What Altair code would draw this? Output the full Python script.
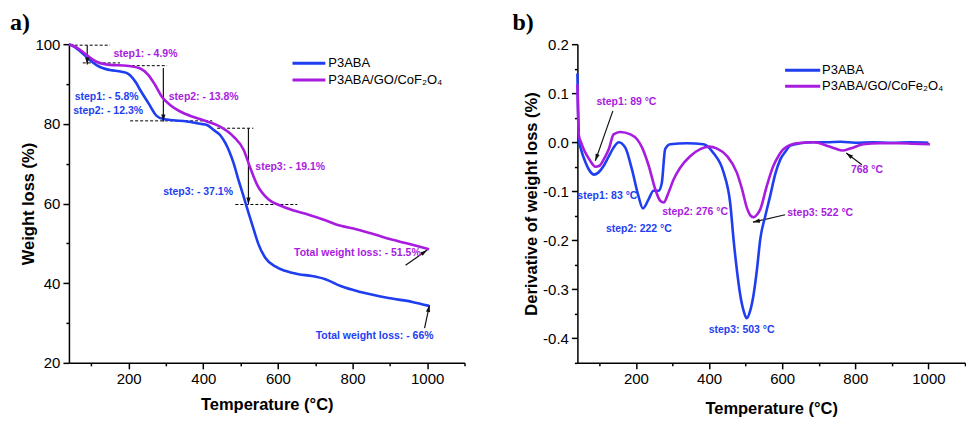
import math
import altair as alt
import pandas as pd

# ---------------- data ----------------
SERIES_A = ["P3ABA", "P3ABA/GO/CoF₂O₄"]
SERIES_B = ["P3ABA", "P3ABA/GO/CoFe₂O₄"]
COLORS = ["#1e3ef0", "#a81ce0"]

# Panel a: TGA (weight %)
tga_blue_t = [40, 50, 70, 87, 100, 114, 130, 150, 181, 200, 208, 220, 231, 253, 275, 293, 320, 356, 392, 410,
              427, 445, 459, 470, 481, 494, 508, 521, 535, 548, 566, 593, 619, 655, 691, 727, 768,
              821, 902, 960, 1005]
tga_blue_w = [100, 99.6, 98.2, 96.8, 95.7, 94.75, 94.0, 93.5, 93.1, 92.5, 91.8, 90.3, 88.5, 85.2, 82.0, 81.2,
              80.9, 80.6, 80.0, 79.7, 78.5, 77.2, 75.2, 73.0, 70.2, 66.0, 61.8, 57.7, 53.5, 49.75, 46.4, 44.2,
              43.1, 42.25, 41.8, 41.0, 39.3, 37.8, 36.2, 35.3, 34.3]
tga_mag_t = [40, 60, 87, 114, 150, 195, 231, 253, 271, 289, 311, 338, 374, 410, 445, 481, 508, 526, 544, 575,
             606, 640, 682, 727, 754, 812, 860, 902, 950, 1005]
tga_mag_w = [100, 99.2, 97.3, 95.6, 94.8, 94.6, 93.9, 92.25, 89.75, 86.8, 84.75, 83.1, 81.7, 80.6, 79.3, 76.8,
             73.5, 68.9, 64.75, 61.0, 59.5, 58.3, 57.2, 55.8, 54.8, 53.5, 52.2, 51.0, 49.9, 48.5]

# Panel b: DTG
dtg_blue_t = [40, 42, 45, 50, 62, 75, 85, 97, 112, 125, 139, 153, 171, 189, 207, 219, 235, 248, 262, 271, 280,
              294, 340, 385, 412, 440, 458, 467, 476, 485, 495, 503, 512, 522, 531, 540, 554, 567, 581, 595,
              610, 622, 649, 686, 720, 760, 800, 850, 900, 950, 1000]
dtg_blue_v = [0.14, 0.06, 0.0, -0.015, -0.041, -0.06, -0.066, -0.062, -0.048, -0.03, -0.011, 0.0, -0.011,
              -0.055, -0.11, -0.135, -0.116, -0.099, -0.099, -0.082, -0.014, -0.004, -0.002, -0.004, -0.022,
              -0.062, -0.125, -0.198, -0.26, -0.31, -0.345, -0.359, -0.345, -0.31, -0.26, -0.198, -0.15, -0.11,
              -0.065, -0.035, -0.018, -0.007, -0.002, 0.0, 0.0, 0.001, -0.001, 0.0, -0.001, 0.0, -0.001]
dtg_mag_t = [40, 44, 50, 57, 66, 75, 89, 100, 112, 126, 139, 157, 185, 203, 217, 235, 253, 267, 276, 289, 303,
             321, 349, 376, 400, 422, 449, 476, 490, 504, 514, 522, 531, 540, 558, 576, 590, 604, 640, 686,
             722, 745, 765, 786, 822, 868, 920, 960, 1004]
dtg_mag_v = [0.118, 0.013, 0.0, -0.014, -0.027, -0.038, -0.05, -0.048, -0.035, -0.014, 0.016, 0.021, 0.016,
             0.006, -0.011, -0.048, -0.096, -0.12, -0.123, -0.103, -0.076, -0.052, -0.028, -0.014, -0.009,
             -0.013, -0.028, -0.062, -0.095, -0.135, -0.15, -0.153, -0.148, -0.137, -0.089, -0.048, -0.028,
             -0.014, -0.002, 0.0, -0.007, -0.013, -0.017, -0.013, -0.004, -0.002, -0.002, -0.003, -0.004]

# Panel a annotations
a_label_text = ["step1: - 4.9%", "step1: - 5.8%", "step2: - 12.3%", "step2: - 13.8%", "step3: - 19.1%",
                "step3: - 37.1%", "Total weight loss: - 51.5%", "Total weight loss: - 66%"]
a_label_t = [245, 141, 145, 401, 633, 386, 813, 859]
a_label_y = [97.5, 86.8, 83.25, 86.8, 69.2, 62.8, 47.5, 26.8]
a_label_s = [1, 0, 0, 1, 1, 0, 1, 0]

a_dash_t1 = [42, 77, 195, 204, 437, 486]
a_dash_t2 = [150, 177, 303, 424, 534, 652]
a_dash_y = [99.75, 95.3, 94.6, 80.75, 78.9, 59.75]

a_arrow_t1 = [89, 293, 521, 942, 993]
a_arrow_y1 = [99.75, 94.0, 78.9, 44.5, 28.7]
a_arrow_t2 = [89, 293, 521, 1000, 1006]
a_arrow_y2 = [94.9, 80.6, 59.75, 48.3, 34.5]

# Panel b annotations
b_label_text = ["step1: 89 °C", "step1: 83 °C", "step2: 222 °C", "step2: 276 °C", "step3: 522 °C",
                "step3: 503 °C", "768 °C"]
b_label_t = [174, 122, 208, 362, 704, 489, 832]
b_label_v = [0.083, -0.11, -0.178, -0.142, -0.145, -0.382, -0.057]
b_label_s = [1, 0, 0, 1, 1, 0, 1]

b_arrow_t1 = [137, 608, 818]
b_arrow_v1 = [0.064, -0.148, -0.046]
b_arrow_t2 = [89, 520, 775]
b_arrow_v2 = [-0.038, -0.163, -0.022]

# ---------------- layout constants ----------------
W_A, W_B, H = 396, 388, 319
X_DOM = [40, 1100]
YA_DOM = [20, 100]
YB_DOM = [-0.45, 0.2]
FONT = "Liberation Sans"
ARROW_PATH = "M0,0 L-0.6,-2 L0.6,-2 Z"

xticks = list(range(100, 1101, 100))
major_x = "datum.value % 200 === 0"


def x_enc(width, title_y):
    return alt.X("t:Q", scale=alt.Scale(domain=X_DOM, nice=False, zero=False),
                 axis=alt.Axis(values=xticks, format="d",
                               labelExpr=f"{major_x} ? datum.label : ''",
                               tickSize={"condition": {"test": major_x, "value": 6}, "value": 3},
                               title="Temperature (°C)", titleX=width / 2, titleY=title_y,
                               titleBaseline="middle", titleAlign="center"))


ya_ticks = list(range(20, 101, 10))
major_ya = "datum.value % 20 === 0"
y_enc_a = alt.Y("v:Q", scale=alt.Scale(domain=YA_DOM, nice=False, zero=False),
                axis=alt.Axis(values=ya_ticks, format="d",
                              labelExpr=f"{major_ya} ? datum.label : ''",
                              tickSize={"condition": {"test": major_ya, "value": 6}, "value": 3},
                              title="Weight loss (%)", titleX=-40, titleY=H / 2, titleAngle=270,
                              titleBaseline="middle", titleAlign="center"))

yb_ticks = [round(-0.45 + 0.05 * i, 2) for i in range(14)]
major_yb = "abs(datum.value*10 - round(datum.value*10)) < 0.001"
y_enc_b = alt.Y("v:Q", scale=alt.Scale(domain=YB_DOM, nice=False, zero=False),
                axis=alt.Axis(values=yb_ticks, format=".1f",
                              labelExpr=f"{major_yb} ? ((datum.value < -0.001 ? '-' : '') + format(abs(datum.value), '.1f')) : ''",
                              tickSize={"condition": {"test": major_yb, "value": 6}, "value": 3},
                              title="Derivative of weight loss (%)", titleX=-46, titleY=H / 2, titleAngle=270,
                              titleBaseline="middle", titleAlign="center"))


def arrow_angles(t1, v1, t2, v2, width, ydom):
    sx = width / (X_DOM[1] - X_DOM[0])
    sy = H / (ydom[1] - ydom[0])
    out = []
    for a, b, c, d in zip(t1, v1, t2, v2):
        dx = (c - a) * sx
        dy = -(d - b) * sy
        ang = math.degrees(math.atan2(dy, dx)) - 90
        out.append(ang % 360)
    return out


def panel(series, curves, labels, dashes, arrows, legend_pos, width, y_enc, ydom, title_txt, title_dx, title_y):
    xe = x_enc(width, title_y)
    rows = []
    for name, col, (ts, vs) in zip(series, COLORS, curves):
        for t, v in zip(ts, vs):
            rows.append({"t": t, "v": v, "series": name, "color": col})
    df_lines = pd.DataFrame(rows)

    lines = alt.Chart(df_lines).mark_line(strokeWidth=2.6, interpolate="monotone").encode(
        x=xe, y=y_enc, color=alt.Color("color:N", scale=None), detail="series:N")

    layers = []
    if dashes is not None:
        d1, d2, dy = dashes
        df_d = pd.DataFrame({"t": d1, "t2": d2, "v": dy})
        layers.append(alt.Chart(df_d).mark_rule(color="black", strokeWidth=1, strokeDash=[3, 2]).encode(
            x=xe, x2="t2:Q", y=y_enc))

    t1, v1, t2, v2 = arrows
    df_a = pd.DataFrame({"t": t1, "v": v1, "t2": t2, "v2": v2})
    layers.append(alt.Chart(df_a).mark_rule(color="#111111", strokeWidth=1.2).encode(
        x=xe, y=y_enc, x2="t2:Q", y2="v2:Q"))
    layers.append(lines)
    df_h = pd.DataFrame({"t": t2, "v": v2, "ang": arrow_angles(t1, v1, t2, v2, width, ydom)})
    layers.append(alt.Chart(df_h).mark_point(shape=ARROW_PATH, filled=True, size=49, color="#111111",
                                             opacity=1, strokeWidth=0).encode(
        x=xe, y=y_enc, angle=alt.Angle("ang:Q", scale=None)))

    ltxt, lt, lv, ls = labels
    df_l = pd.DataFrame({"t": lt, "v": lv, "label": ltxt, "color": [COLORS[i] for i in ls]})
    layers.append(alt.Chart(df_l).mark_text(font=FONT, fontSize=10.5, fontWeight="bold", align="center",
                                            baseline="middle").encode(
        x=xe, y=y_enc, text="label:N", color=alt.Color("color:N", scale=None)))

    lx1, lx2, ltx, ly = legend_pos
    df_leg = pd.DataFrame({"t": [lx1] * 2, "t2": [lx2] * 2, "v": ly, "color": COLORS})
    layers.append(alt.Chart(df_leg).mark_rule(strokeWidth=3).encode(
        x=xe, x2="t2:Q", y=y_enc, color=alt.Color("color:N", scale=None)))
    df_legt = pd.DataFrame({"t": [ltx] * 2, "v": ly, "label": series})
    layers.append(alt.Chart(df_legt).mark_text(font=FONT, fontSize=13, align="left", baseline="middle",
                                               color="black").encode(x=xe, y=y_enc, text="label:N"))

    return alt.layer(*layers).properties(
        width=width, height=H,
        title=alt.TitleParams(title_txt, anchor="start", frame="group", dx=title_dx, offset=2,
                              font="Liberation Serif", fontSize=24, fontWeight="bold", color="black"))


chart_a = panel(SERIES_A, [(tga_blue_t, tga_blue_w), (tga_mag_t, tga_mag_w)],
                (a_label_text, a_label_t, a_label_y, a_label_s),
                (a_dash_t1, a_dash_t2, a_dash_y),
                (a_arrow_t1, a_arrow_y1, a_arrow_t2, a_arrow_y2),
                (639, 727, 735, [95.2, 91.0]), W_A, y_enc_a, YA_DOM, "a)", -59, 42)

chart_b = panel(SERIES_B, [(dtg_blue_t, dtg_blue_v), (dtg_mag_t, dtg_mag_v)],
                (b_label_text, b_label_t, b_label_v, b_label_s),
                None,
                (b_arrow_t1, b_arrow_v1, b_arrow_t2, b_arrow_v2),
                (608, 704, 709, [0.147, 0.114]), W_B, y_enc_b, YB_DOM, "b)", -65, 46)

chart = alt.hconcat(chart_a, chart_b, spacing=47).properties(
    padding={"left": 2, "top": 3, "right": 0, "bottom": 0}
).configure_view(stroke=None).configure_axis(
    grid=False, domainColor="black", domainWidth=1.5, tickColor="black", tickWidth=1.5,
    labelFont=FONT, labelFontSize=15, labelColor="black", labelPadding=3, labelFlush=False,
    labelOverlap=False, titleFont=FONT, titleFontSize=16.5, titleFontWeight="bold", titleColor="black"
)

chart.save("out.html", embed_options={"renderer": "svg", "actions": False})
